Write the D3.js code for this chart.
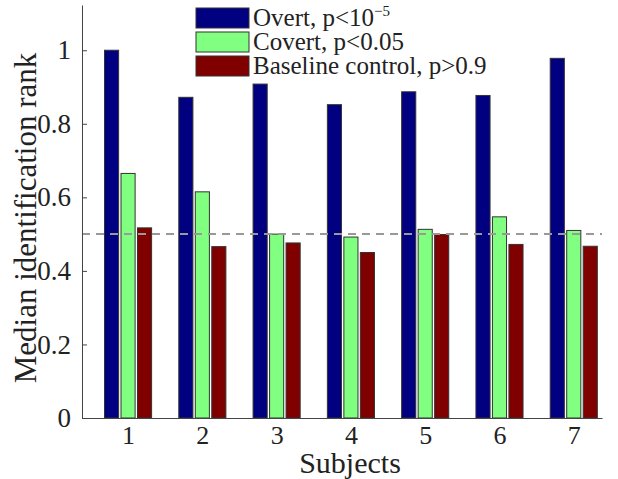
<!DOCTYPE html>
<html>
<head>
<meta charset="utf-8">
<script src="https://cdn.jsdelivr.net/npm/d3@7"></script>
<style>
body { margin: 0; background: #fff; }
</style>
</head>
<body>
<div id="chart"></div>
<script>
const subjects = [1, 2, 3, 4, 5, 6, 7];
const overt = [1.0, 0.872, 0.908, 0.852, 0.887, 0.877, 0.978];
const covert = [0.665, 0.615, 0.5, 0.492, 0.513, 0.547, 0.51];
const baseline = [0.517, 0.466, 0.476, 0.45, 0.499, 0.472, 0.467];
const yTicks = [0, 0.2, 0.4, 0.6, 0.8, 1];
const seriesNames = ["Overt, p<10", "Covert, p<0.05", "Baseline control, p>0.9"];
const seriesColors = ["#000080", "#80ff80", "#800000"];
const chanceLevel = 0.5;

const font = "Liberation Serif";
const width = 618, height = 479;
const margin = {top: 5, right: 16, bottom: 61, left: 82};

const svg = d3.select("#chart").append("svg").attr("width", width).attr("height", height);

const xScale = d3.scaleLinear().domain([0.38, 7.38]).range([margin.left, width - margin.right]);
const yScale = d3.scaleLinear().domain([0, 1.123]).range([height - margin.bottom, margin.top]);

const series = [overt, covert, baseline];
const offsets = [-0.222, 0, 0.222];
const barW = 0.19;

series.forEach((vals, i) => {
    svg.append("g").selectAll("rect").data(vals).enter().append("rect")
        .attr("x", (d, j) => xScale(subjects[j] + offsets[i] - barW / 2))
        .attr("y", d => yScale(d))
        .attr("width", xScale(barW) - xScale(0))
        .attr("height", d => yScale(0) - yScale(d))
        .attr("fill", seriesColors[i])
        .attr("stroke", "#333").attr("stroke-width", 1);
});

// chance level
svg.append("line")
    .attr("x1", xScale(0.38)).attr("x2", xScale(7.38))
    .attr("y1", yScale(chanceLevel)).attr("y2", yScale(chanceLevel))
    .attr("stroke", "#999").attr("stroke-width", 2).attr("stroke-dasharray", "8,6");

const yAxis = d3.axisLeft(yScale).tickValues(yTicks).tickFormat(d => d === 0 || d === 1 ? d : d3.format(".1f")(d)).tickSizeInner(-5).tickSizeOuter(0).tickPadding(11);
const gy = svg.append("g").attr("transform", `translate(${margin.left},0)`).call(yAxis);
gy.attr("font-family", font);
gy.select(".domain").attr("stroke", "#444");
gy.selectAll(".tick line").attr("stroke", "#444");
gy.selectAll("text").attr("font-size", 27).attr("font-family", font).attr("fill", "#222");

const xAxis = d3.axisBottom(xScale).tickValues(subjects).tickFormat(d3.format("d")).tickSize(0).tickPadding(8);
const gx = svg.append("g").attr("transform", `translate(0,${height - margin.bottom})`).call(xAxis);
gx.attr("font-family", font);
gx.select(".domain").attr("stroke", "#444");
gx.selectAll("text").attr("font-size", 26).attr("font-family", font).attr("fill", "#222");

svg.append("text").attr("x", 350).attr("y", 473).attr("text-anchor", "middle")
    .attr("font-family", font).attr("font-size", 30).attr("fill", "#222").text("Subjects");
svg.append("text").attr("transform", "rotate(-90)").attr("x", -218).attr("y", 36).attr("text-anchor", "middle")
    .attr("font-family", font).attr("font-size", 31).attr("fill", "#222").text("Median identification rank");

// legend
const legend = svg.append("g");
seriesNames.forEach((name, i) => {
    const y0 = 8 + i * 24;
    legend.append("rect").attr("x", 196).attr("y", y0).attr("width", 53).attr("height", 20)
        .attr("fill", seriesColors[i]).attr("stroke", "#333").attr("stroke-width", 1);
    const t = legend.append("text").attr("x", 253).attr("y", y0 + 18)
        .attr("font-family", font).attr("font-size", 25).attr("fill", "#222").text(name);
    if (i === 0) t.append("tspan").attr("dy", -10).attr("font-size", 15).text("\u22125");
});
</script>
</body>
</html>
